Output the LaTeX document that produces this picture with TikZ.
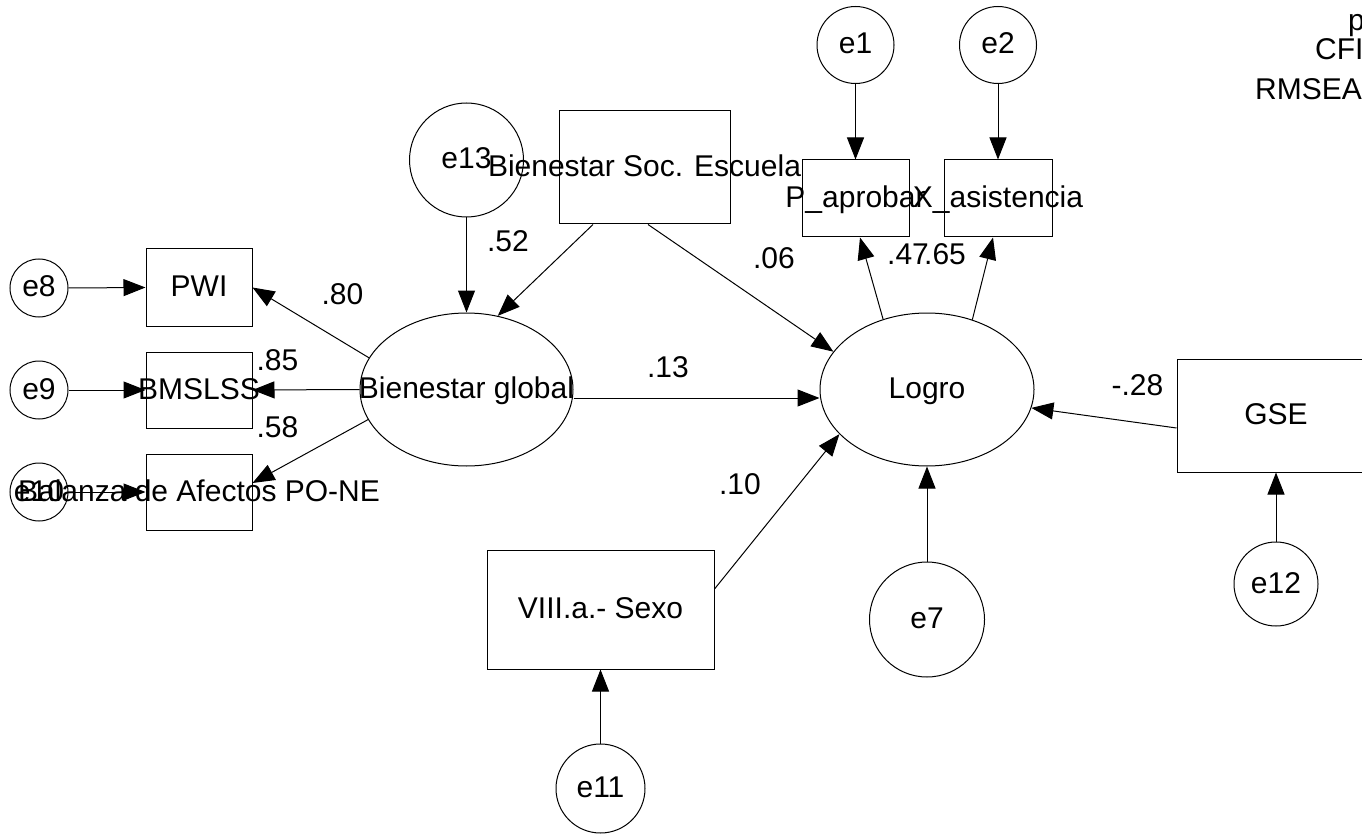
\documentclass[tikz,border=0pt]{standalone}
\usepackage{fontspec}
\setmainfont{Liberation Sans}
\usetikzlibrary{arrows.meta,shapes.geometric}
% zero-width text so that long labels may overhang their shapes
\newcommand{\nw}[1]{\makebox[0pt]{#1}}
\begin{document}
\begin{tikzpicture}[x=1pt,y=-1pt,
  every node/.style={font=\fontsize{30}{36}\selectfont, inner sep=0pt,
                     text height=21.5pt, text depth=3.5pt},
  obs/.style={draw, rectangle, line width=1pt},
  lat/.style={draw, ellipse, line width=1pt},
  err/.style={draw, circle, line width=1pt},
  coef/.style={anchor=base},
  reg/.style={line width=1pt, -{Triangle[length=22pt,width=17pt]}},
]
\useasboundingbox (0,0) rectangle (1362,834);
\clip (0,0) rectangle (1362,834);

% latent variables
\node[lat, minimum width=213pt, minimum height=153pt] (bg) at (466.5,389.5) {\nw{Bienestar global}};
\node[lat, minimum width=214pt, minimum height=153pt] (logro) at (927,389.5) {\nw{Logro}};

% observed variables
\node[obs, minimum width=106pt, minimum height=77pt] (pwi) at (199,287.5) {\nw{PWI}};
\node[obs, minimum width=106pt, minimum height=76pt] (bmslss) at (199,390) {\nw{BMSLSS}};
\node[obs, minimum width=106pt, minimum height=76pt] (balanza) at (199,492) {\nw{Balanza de Afectos PO-NE}};
\node[obs, minimum width=171pt, minimum height=113pt] (soc) at (644.5,167.5) {\nw{Bienestar Soc. Escuela}};
\node[obs, minimum width=107pt, minimum height=77pt] (paprobar) at (855.5,198.5) {\nw{P\_aprobar}};
\node[obs, minimum width=108pt, minimum height=77pt] (xasist) at (998,198.5) {\nw{X\_asistencia}};
\node[obs, minimum width=227pt, minimum height=119pt] (sexo) at (600.5,609.5) {\nw{VIII.a.- Sexo}};
\node[obs, minimum width=198pt, minimum height=113pt] (gse) at (1276,415.5) {\nw{GSE}};

% error terms
\node[err, minimum size=77pt] (e1) at (855.5,45) {\nw{e1}};
\node[err, minimum size=77pt] (e2) at (998,45) {\nw{e2}};
\node[err, minimum size=114pt] (e13) at (466.5,160) {\nw{e13}};
\node[err, minimum size=58pt] (e8) at (39,288) {\nw{e8}};
\node[err, minimum size=58pt] (e9) at (39,390) {\nw{e9}};
\node[err, minimum size=58pt] (e10) at (39,492) {\nw{e10}};
\node[err, minimum size=115pt] (e7) at (927,619.5) {\nw{e7}};
\node[err, minimum size=89pt] (e11) at (600.5,788.5) {\nw{e11}};
\node[err, minimum size=84pt] (e12) at (1276,584) {\nw{e12}};

% error paths
\draw[reg] (e1.south) -- (paprobar.north);
\draw[reg] (e2.south) -- (xasist.north);
\draw[reg] (e13.south) -- (bg.north);
\draw[reg] (e8.east) -- (pwi.west);
\draw[reg] (e9.east) -- (bmslss.west);
\draw[reg] (e10.east) -- (balanza.west);
\draw[reg] (e7.north) -- (logro.south);
\draw[reg] (e11.north) -- (sexo.south);
\draw[reg] (e12.north) -- (gse.south);

% measurement paths
\draw[reg] (bg.162.4) -- (pwi.east);
\draw[reg] (bg.west) -- (bmslss.east);
\draw[reg] (bg.197.9) -- ([yshift=9pt]balanza.east);
\draw[reg] (logro.122.9) -- ([xshift=4.5pt]paprobar.south);
\draw[reg] (logro.57.7) -- ([xshift=-5pt]xasist.south);

% structural paths
\draw[reg] ([xshift=-51.5pt]soc.south) -- (bg.67.7);
\draw[reg] ([xshift=3.5pt]soc.south) -- (logro.158.2);
\draw[reg] ([yshift=-8.5pt]bg.east) -- ([yshift=-8.5pt]logro.west);
\draw[reg] ([yshift=20.5pt]sexo.east) -- (logro.207.1);
\draw[reg] ([yshift=-12.5pt]gse.west) -- (logro.350.5);

% coefficients
\node[coef] (c80) at (342.5,304) {.80};
\node[coef] (c85) at (277.5,370) {.85};
\node[coef] (c58) at (277.5,437) {.58};
\node[coef] (c52) at (508,252) {.52};
\node[coef] (c06) at (774,269) {.06};
\node[coef] (c13) at (668,377) {.13};
\node[coef] (c10) at (740,494) {.10};
\node[coef] (c47) at (908,265) {.47};
\node[coef] (c65) at (945,265) {.65};
\node[coef] (c28) at (1137.5,395) {-.28};

% fit indices
\node[anchor=base west] (fitp) at (1348,31) {p};
\node[anchor=base west] (fitcfi) at (1315,60) {CFI};
\node[anchor=base west] (fitrmsea) at (1255,100) {RMSEA};
\end{tikzpicture}
\end{document}
